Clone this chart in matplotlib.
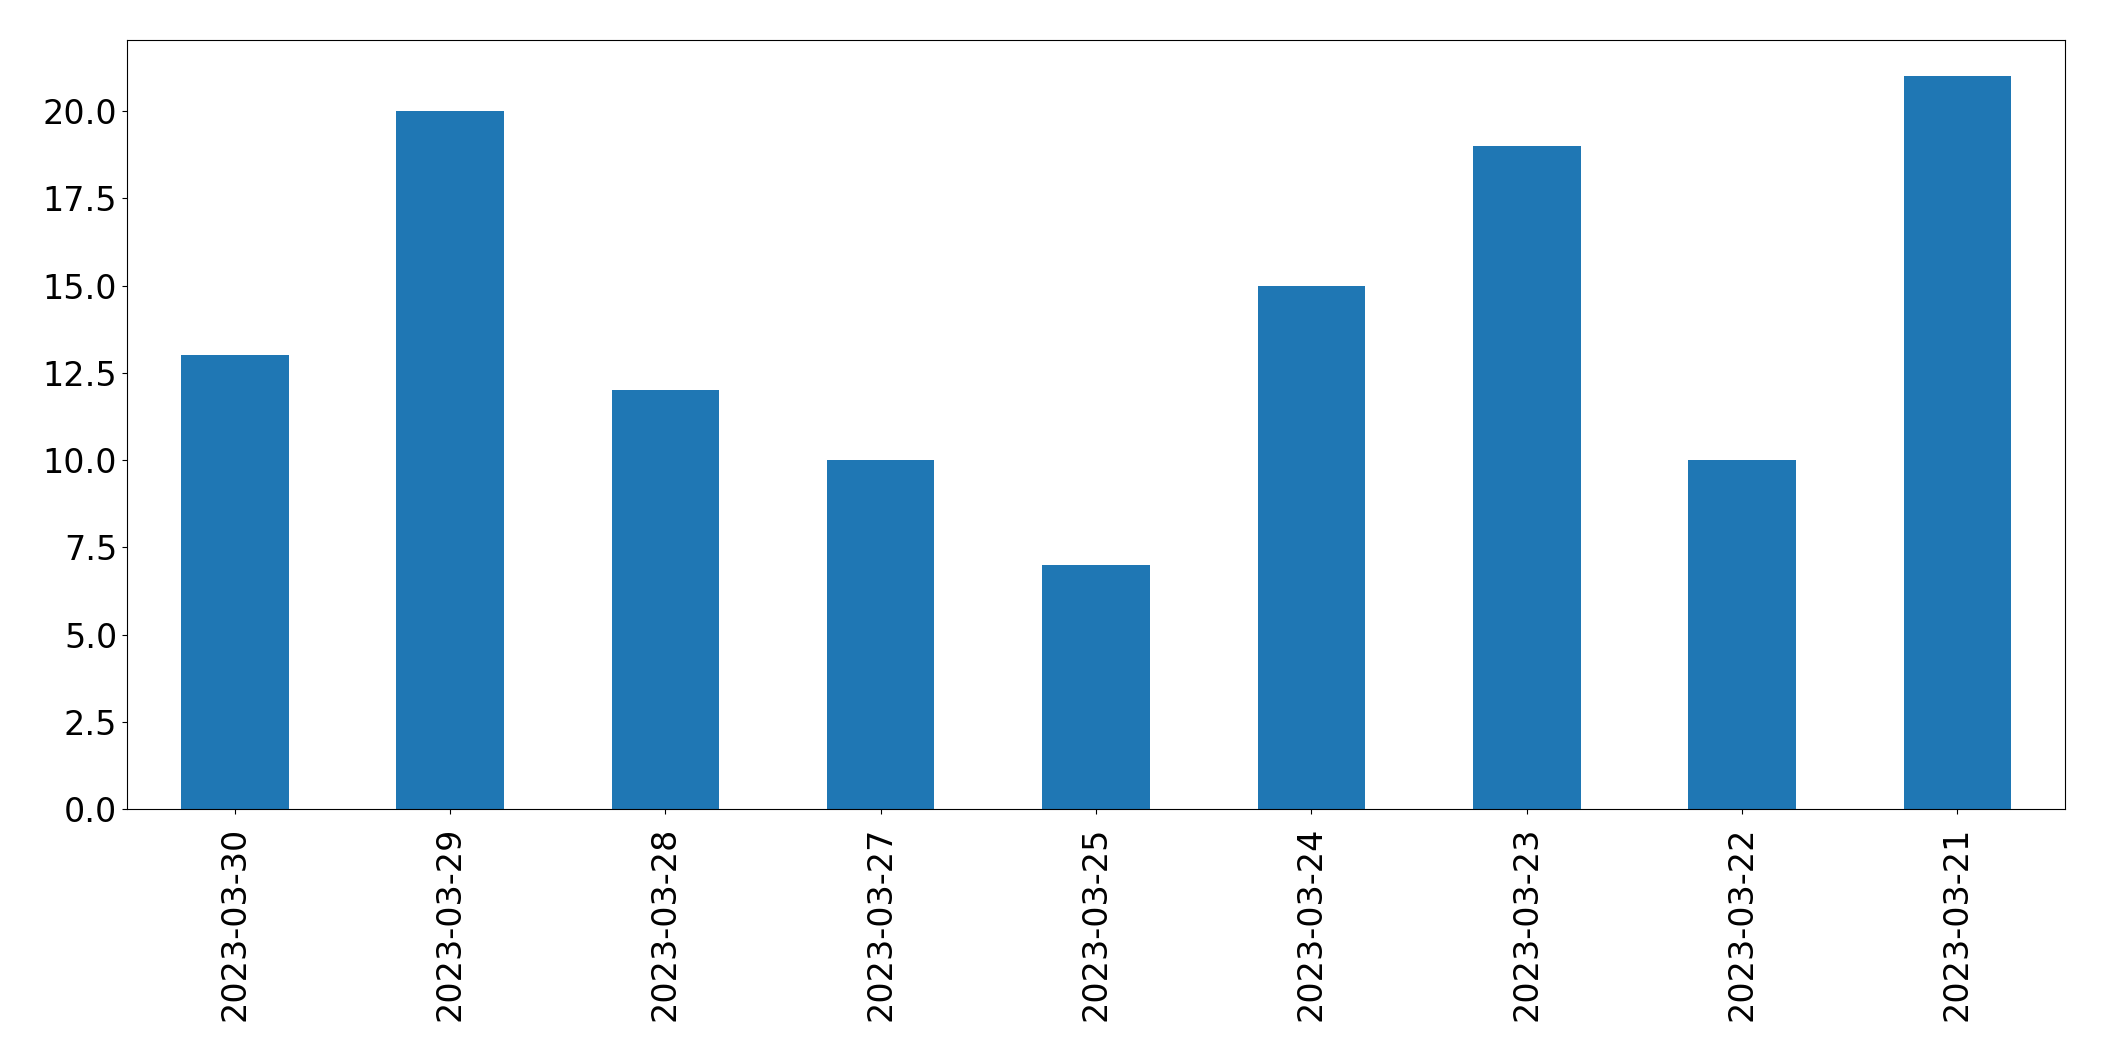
import matplotlib
matplotlib.use("Agg")
import matplotlib.pyplot as plt

dates = ["2023-03-30", "2023-03-29", "2023-03-28", "2023-03-27", "2023-03-25",
         "2023-03-24", "2023-03-23", "2023-03-22", "2023-03-21"]
counts = [13, 20, 12, 10, 7, 15, 19, 10, 21]

fig = plt.figure(figsize=(21.04, 10.61), dpi=100)
ax = fig.add_axes([127/2104, (1061-809)/1061, (2065-127)/2104, (809-39.7)/1061])
x = list(range(len(dates)))
ax.bar(x, counts, width=0.5, color="#1f77b4")
ax.set_xlim(-0.5, len(dates) - 0.5)
ax.set_ylim(0, max(counts) * 1.05)
ax.set_xticks(x)
ax.set_xticklabels(dates, rotation=90)
ax.set_yticks([0, 2.5, 5, 7.5, 10, 12.5, 15, 17.5, 20])
ax.set_yticklabels(["0.0", "2.5", "5.0", "7.5", "10.0", "12.5", "15.0", "17.5", "20.0"])
ax.tick_params(labelsize=24)
ax.tick_params(axis="x", pad=9.3)
fig.savefig("out.png", dpi=100)
